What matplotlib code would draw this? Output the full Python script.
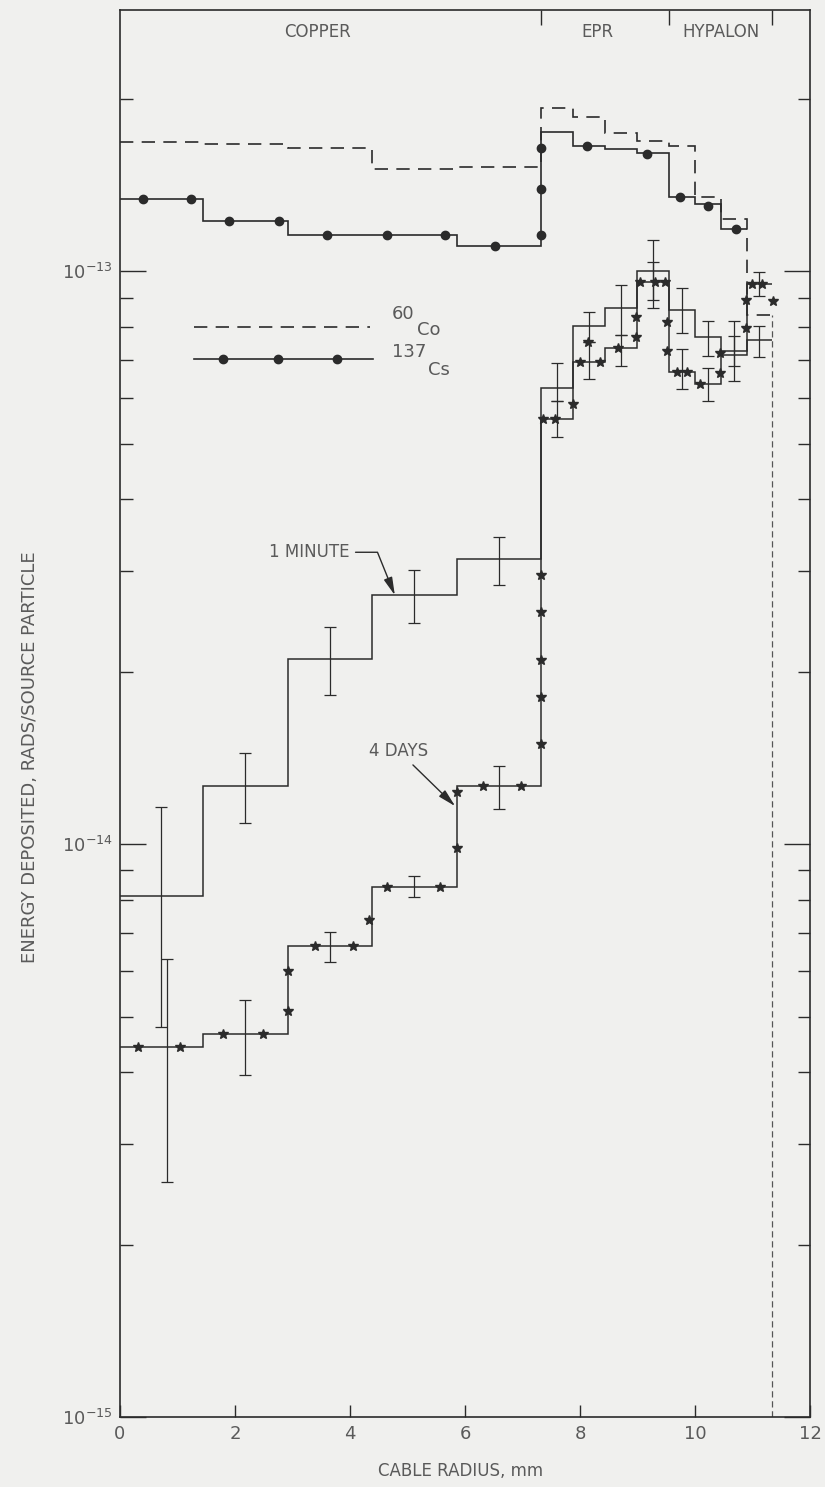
import numpy as np
import matplotlib
matplotlib.use('Agg')
import matplotlib.pyplot as plt
import matplotlib.transforms as mtransforms
from matplotlib.ticker import LogLocator, NullFormatter, FixedLocator, LogFormatterMathtext

# bin edges, mm (copper | EPR | hypalon)
edges = [0.0, 1.44, 2.92, 4.38, 5.86, 7.32, 7.88, 8.44, 8.99, 9.55, 10.0, 10.45, 10.9, 11.34]
boundaries = [7.32, 9.55, 11.34]
regions = ['COPPER', 'EPR', 'HYPALON']
region_x = [3.44, 8.3, 10.45]
decades = [1e-15, 1e-14, 1e-13]

# 60Co and 137Cs source histograms
co60 = [1.679e-13, 1.666e-13, 1.642e-13, 1.507e-13, 1.519e-13, 1.925e-13, 1.857e-13,
        1.741e-13, 1.686e-13, 1.653e-13, 1.346e-13, 1.233e-13, 8.38e-14]
cs137 = [1.336e-13, 1.223e-13, 1.158e-13, 1.156e-13, 1.106e-13, 1.748e-13, 1.653e-13,
         1.633e-13, 1.607e-13, 1.346e-13, 1.309e-13, 1.184e-13]
cs_dot_x = [0.40, 1.23, 1.90, 2.77, 3.60, 4.64, 5.65, 6.52, 7.32, 7.32, 7.32,
            8.12, 9.17, 9.74, 10.23, 10.71]
cs_dot_y = [1.336e-13, 1.336e-13, 1.223e-13, 1.223e-13, 1.158e-13, 1.156e-13, 1.156e-13,
            1.106e-13, 1.156e-13, 1.39e-13, 1.645e-13, 1.653e-13, 1.60e-13, 1.346e-13,
            1.298e-13, 1.184e-13]

# 1 minute histogram with error limits
min1 = [8.11e-15, 1.262e-14, 2.103e-14, 2.72e-14, 3.143e-14, 6.25e-14, 8.02e-14,
        8.62e-14, 1.0e-13, 8.55e-14, 7.67e-14, 7.25e-14, 7.58e-14]
min1_lo = [4.79e-15, 1.088e-14, 1.820e-14, 2.43e-14, 2.83e-14, 5.93e-14, 7.52e-14,
           7.73e-14, 8.62e-14, 7.79e-14, 7.11e-14, 6.43e-14, 7.08e-14]
min1_hi = [1.160e-14, 1.442e-14, 2.392e-14, 3.008e-14, 3.434e-14, 6.91e-14, 8.48e-14,
           9.45e-14, 1.133e-13, 9.34e-14, 8.18e-14, 8.18e-14, 8.02e-14]

# 4 days histogram with error limits
day4 = [4.42e-15, 4.66e-15, 6.64e-15, 8.41e-15, 1.262e-14, 5.52e-14, 6.94e-14,
        7.34e-14, 9.57e-14, 6.66e-14, 6.35e-14, 7.14e-14, 9.49e-14]
day4_lo = [2.57e-15, 3.95e-15, 6.22e-15, 8.08e-15, 1.151e-14, 5.13e-14, 6.48e-14,
           6.83e-14, 8.90e-14, 6.22e-14, 5.93e-14, 6.83e-14, 9.04e-14]
day4_hi = [6.30e-15, 5.34e-15, 7.02e-15, 8.79e-15, 1.368e-14, 5.93e-14, 7.52e-14,
           7.73e-14, 1.04e-13, 7.31e-14, 6.77e-14, 7.70e-14, 9.96e-14]
star_x = [0.31, 1.04, 1.79, 2.49, 2.92, 2.92, 3.39, 4.05, 4.33, 4.64, 5.57, 5.86, 5.86,
          6.31, 6.97, 7.32, 7.32, 7.32, 7.32, 7.32, 7.36, 7.57, 7.88, 8.14, 8.0, 8.35,
          8.66, 8.97, 8.97, 9.04, 9.30, 9.48, 9.51, 9.51, 9.69, 9.86, 10.09, 10.43,
          10.43, 10.89, 10.89, 10.99, 11.17, 11.36]
star_y = [4.42e-15, 4.42e-15, 4.66e-15, 4.66e-15, 5.11e-15, 6.00e-15, 6.64e-15, 6.64e-15,
          7.37e-15, 8.41e-15, 8.41e-15, 9.84e-15, 1.233e-14, 1.262e-14, 1.262e-14,
          1.494e-14, 1.805e-14, 2.095e-14, 2.54e-14, 2.95e-14, 5.52e-14, 5.52e-14,
          5.86e-14, 7.52e-14, 6.94e-14, 6.94e-14, 7.36e-14, 8.31e-14, 7.67e-14,
          9.57e-14, 9.57e-14, 9.57e-14, 8.15e-14, 7.25e-14, 6.66e-14, 6.66e-14,
          6.37e-14, 7.19e-14, 6.64e-14, 8.93e-14, 7.95e-14, 9.49e-14, 9.49e-14, 8.86e-14]

ink = '#2b2b2b'
txt = '#5a5a5a'
bg = '#f0f0ee'
dash = (0, (8, 5))

fig = plt.figure(figsize=(8.25, 14.87), dpi=100, facecolor=bg)
ax = fig.add_axes([0.14545, 0.0471, 0.83636, 0.9462], facecolor=bg)
ax.set_yscale('log')
ax.set_xlim(0, 12)
ax.set_ylim(1e-15, 2.86e-13)

edges = np.array(edges)
centers = 0.5 * (edges[:-1] + edges[1:])

# source curves
ax.stairs(co60, edges, baseline=None, color=ink, lw=1.2, linestyle=dash)
# outer edge of the cable: 60Co curve drops to zero (thin line)
ax.vlines(edges[-1], 1e-15, co60[-1], color='#555555', lw=0.9, linestyle=(0, (5, 3)))
ax.stairs(cs137, edges[:len(cs137) + 1], baseline=None, color=ink, lw=1.2)
ax.plot(cs_dot_x, cs_dot_y, 'o', color=ink, ms=6, ls='none')

# 1 minute / 4 days
ax.stairs(min1, edges, baseline=None, color=ink, lw=1.1)
ax.stairs(day4, edges, baseline=None, color=ink, lw=1.1)
min1 = np.array(min1)
day4 = np.array(day4)
ax.errorbar(centers, min1, yerr=[min1 - np.array(min1_lo), np.array(min1_hi) - min1],
            fmt='none', ecolor=ink, elinewidth=0.9, capsize=4, capthick=0.9)
x4 = centers.copy()
x4[0] += 0.09
ax.errorbar(x4, day4, yerr=[day4 - np.array(day4_lo), np.array(day4_hi) - day4],
            fmt='none', ecolor=ink, elinewidth=0.9, capsize=4, capthick=0.9)
ax.plot(star_x, star_y, '*', color=ink, ms=7, ls='none')

# annotations
ax.annotate('1 MINUTE', xy=(4.78, 2.72e-14), xytext=(4.0, 3.233e-14),
            ha='right', va='center', fontsize=12, color=txt,
            arrowprops=dict(arrowstyle='-|>,head_length=0.9,head_width=0.22',
                            connectionstyle='angle,angleA=0,angleB=112,rad=0',
                            color=ink, lw=1.0, shrinkA=2, shrinkB=0))
ax.annotate('4 DAYS', xy=(5.83, 1.165e-14), xytext=(4.85, 1.453e-14),
            ha='center', va='center', fontsize=12, color=txt,
            arrowprops=dict(arrowstyle='-|>,head_length=0.9,head_width=0.22',
                            color=ink, lw=1.0, shrinkA=2, shrinkB=0))

# legend drawn by hand
ax.plot([0.107, 0.362], [0.7747, 0.7747], transform=ax.transAxes, color=ink,
        lw=1.2, linestyle=dash)
ax.plot([0.107, 0.367], [0.752, 0.752], transform=ax.transAxes, color=ink, lw=1.2)
ax.plot([0.149, 0.229, 0.314], [0.752] * 3, 'o', transform=ax.transAxes, color=ink, ms=6)
ax.text(0.394, 0.784, '60', transform=ax.transAxes, fontsize=13, color=txt, va='center')
ax.text(0.430, 0.7725, 'Co', transform=ax.transAxes, fontsize=13, color=txt, va='center')
ax.text(0.394, 0.757, '137', transform=ax.transAxes, fontsize=13, color=txt, va='center')
ax.text(0.446, 0.744, 'Cs', transform=ax.transAxes, fontsize=13, color=txt, va='center')

# region labels at top
trans = mtransforms.blended_transform_factory(ax.transData, ax.transAxes)
for name, xr in zip(regions, region_x):
    ax.text(xr, 0.984, name, transform=trans, ha='center', va='center',
            fontsize=12, color=txt)
top = ax.secondary_xaxis('top')
top.xaxis.set_major_locator(FixedLocator(boundaries))
top.xaxis.set_major_formatter(NullFormatter())
top.tick_params(direction='in', length=11, width=1.0, color=ink)

# axes styling
ax.set_xticks([0, 2, 4, 6, 8, 10, 12])
ax.yaxis.set_major_locator(FixedLocator(decades))
ax.yaxis.set_major_formatter(LogFormatterMathtext())
ax.yaxis.set_minor_locator(LogLocator(base=10, subs=np.arange(2, 10), numticks=20))
ax.yaxis.set_minor_formatter(NullFormatter())
ax.tick_params(axis='x', direction='in', length=9, width=1.0, color=ink,
               labelsize=13, labelcolor=txt, pad=6, top=False)
ax.tick_params(axis='y', which='major', direction='in', length=19, width=1.0,
               color=ink, labelsize=13, labelcolor=txt, pad=5, right=True)
ax.tick_params(axis='y', which='minor', direction='in', length=9, width=1.0,
               color=ink, right=True)
for s in ax.spines.values():
    s.set_color(ink)
    s.set_linewidth(1.2)
top.spines['top'].set_visible(False)

ax.set_xlabel('CABLE RADIUS, mm', fontsize=12, color=txt)
ax.set_ylabel('ENERGY DEPOSITED, RADS/SOURCE PARTICLE', fontsize=13, color=txt)
ax.xaxis.set_label_coords(0.493, -0.032)
ax.yaxis.set_label_coords(-0.118, 0.469)

fig.savefig('out.png', dpi=100, facecolor=bg)
